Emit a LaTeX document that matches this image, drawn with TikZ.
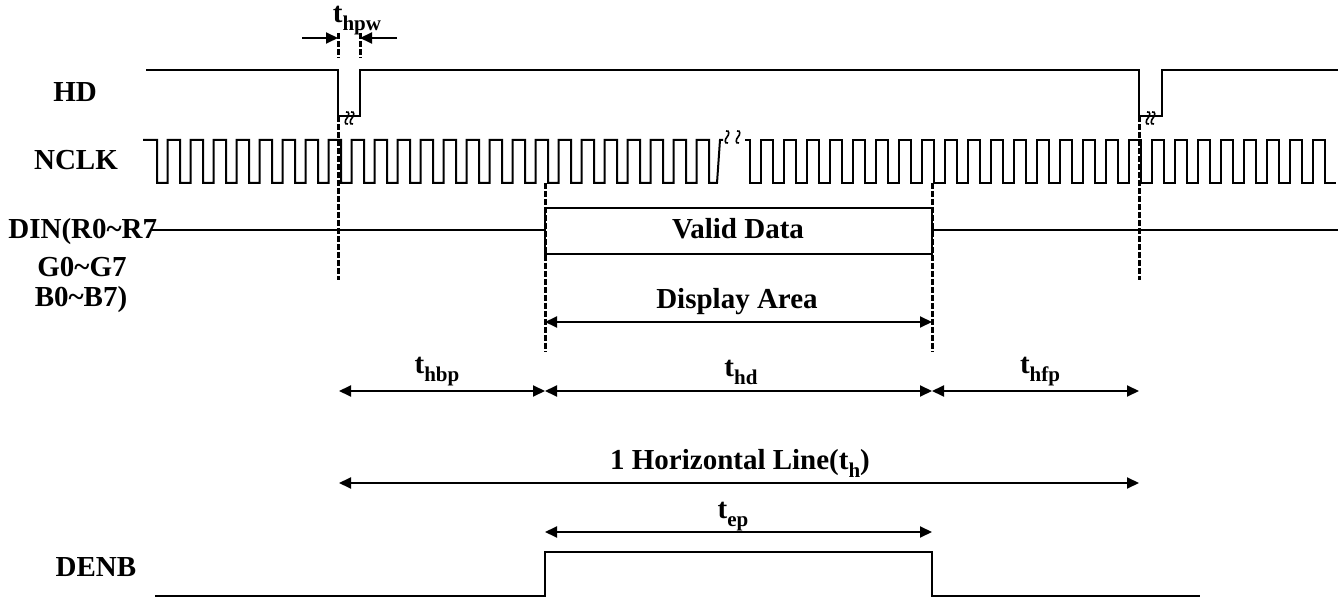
\documentclass[tikz,border=0pt]{standalone}
\usepackage{fontspec}
\setmainfont{Liberation Serif}
\usetikzlibrary{arrows.meta}
\newcommand{\tsub}[1]{\raisebox{-0.6ex}{\fontsize{10.5}{10.5}\selectfont #1}}

\begin{document}
\begin{tikzpicture}[
    x=0.5pt, y=-0.5pt,
    sig/.style={line width=1pt},
    guide/.style={line width=1.5pt, dash pattern=on 3pt off 1pt},
    dim/.style={{Triangle[length=6pt,width=5.5pt]}-{Triangle[length=6pt,width=5.5pt]}, line width=1pt},
    tip/.style={-{Triangle[length=6pt,width=5.5pt]}, line width=1pt},
    lbl/.style={font=\fontsize{14.5}{17}\selectfont\bfseries, inner sep=0pt},
    brk/.pic={\draw[line width=0.8pt] (-1,-6) .. controls (3,-7) and (2,-2) .. (0,0)
                .. controls (-2,2) and (-3,7) .. (1,6);}
]
\useasboundingbox (0,0) rectangle (1341,599);

% --- Signal names ---
\node[lbl] (hd-name) at (75,92) {HD};
\node[lbl] (nclk-name) at (76,160) {NCLK};
\node[lbl, anchor=west] (din-name) at (8,232) {DIN(R0\textasciitilde R7};
\node[lbl] (g-name) at (82,267) {G0\textasciitilde G7};
\node[lbl] (b-name) at (81,300) {B0\textasciitilde B7)};
\node[lbl] (denb-name) at (96,567) {DENB};

% --- HD ---
\draw[sig] (146,70) -- (338,70) -- (338,116) -- (360,116) -- (360,70)
    -- (1139,70) -- (1139,116) -- (1162,116) -- (1162,70) -- (1338,70);
\pic at (347,118) {brk};
\pic at (352,118) {brk};
\pic at (1148,118) {brk};
\pic at (1153,118) {brk};

% --- NCLK ---
\draw[sig] (143,140) -- (157,140)
    foreach \k in {1,...,24} { -- ++(0,43) -- ++(10.5,0) -- ++(0,-43) -- ++(12.5,0) }
    -- ++(0,43) -- ++(8,0) -- ++(3,-43) -- ++(3,0);
\pic at (727,137) {brk};
\pic at (738,137) {brk};
\draw[sig] (745,140) -- (750,140)
    foreach \k in {1,...,25} { -- ++(0,43) -- ++(11,0) -- ++(0,-43) -- ++(12,0) }
    -- ++(0,43) -- ++(11,0);

% --- DIN ---
\draw[sig] (150,230) -- (545,230);
\draw[sig] (545,208) rectangle (932,254);
\draw[sig] (932,230) -- (1338,230);
\node[lbl] (valid) at (738,229) {Valid Data};

% --- DENB ---
\draw[sig] (155,596) -- (545,596) -- (545,552) -- (932,552) -- (932,596) -- (1200,596);

% --- Guide lines ---
\draw[guide] (338,33) -- (338,58);
\draw[guide] (360,33) -- (360,58);
\draw[guide] (338,116) -- (338,280);
\draw[guide] (545,183) -- (545,352);
\draw[guide] (932,183) -- (932,352);
\draw[guide] (1139,116) -- (1139,280);

% --- Dimension points ---
\coordinate (hpw-l) at (302,38);
\coordinate (hpw-a) at (338,38);
\coordinate (hpw-b) at (360,38);
\coordinate (hpw-r) at (397,38);
\coordinate (disp-l) at (545,322);
\coordinate (disp-r) at (932,322);
\coordinate (hbp-l) at (339,391);
\coordinate (hbp-r) at (545,391);
\coordinate (hfp-l) at (932,391);
\coordinate (hfp-r) at (1139,391);
\coordinate (th-l) at (339,483);
\coordinate (th-r) at (1139,483);
\coordinate (ep-l) at (545,532);
\coordinate (ep-r) at (932,532);

% --- Dimension arrows ---
\draw[tip] (hpw-l) -- (hpw-a);
\draw[tip] (hpw-r) -- (hpw-b);
\draw[dim] (disp-l) -- (disp-r);
\draw[dim] (hbp-l) -- (hbp-r);
\draw[dim] (hbp-r) -- (hfp-l);
\draw[dim] (hfp-l) -- (hfp-r);
\draw[dim] (th-l) -- (th-r);
\draw[dim] (ep-l) -- (ep-r);

% --- Labels ---
\node[lbl] (hpw) at (357,21) {t\tsub{hpw}};
\node[lbl] (disp) at (737,302) {Display Area};
\node[lbl] (hbp) at (437,372) {t\tsub{hbp}};
\node[lbl] (thd) at (741,372) {t\tsub{hd}};
\node[lbl] (hfp) at (1040,372) {t\tsub{hfp}};
\node[lbl] (hline) at (740,463) {1 Horizontal Line(t\tsub{h})};
\node[lbl] (tep) at (733,517) {t\tsub{ep}};

\end{tikzpicture}
\end{document}
